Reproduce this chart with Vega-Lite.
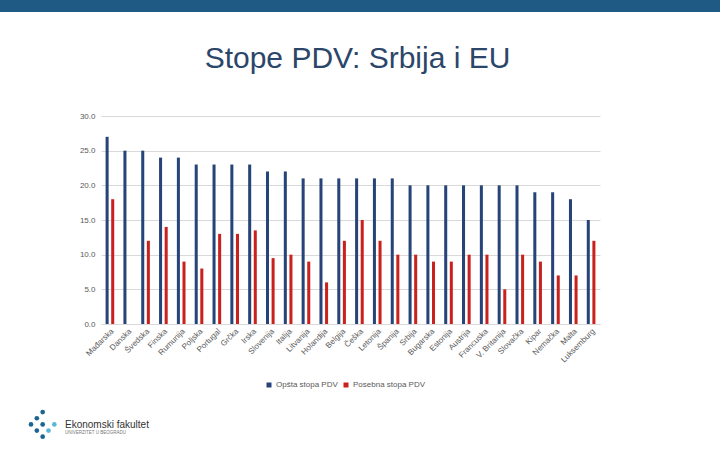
{
  "$schema": "https://vega.github.io/schema/vega-lite/v6.json",
  "padding": 0,
  "spacing": 20,
  "background": "white",
  "config": {"view": {"stroke": null}, "font": "Liberation Sans"},
  "resolve": {"scale": {"color": "independent"}, "legend": {"color": "independent"}},
  "datasets": {
    "pdv": [
      {"zemlja": "Mađarska", "vrsta": "Opšta stopa PDV", "stopa": 27},
      {"zemlja": "Mađarska", "vrsta": "Posebna stopa PDV", "stopa": 18},
      {"zemlja": "Danska", "vrsta": "Opšta stopa PDV", "stopa": 25},
      {"zemlja": "Švedska", "vrsta": "Opšta stopa PDV", "stopa": 25},
      {"zemlja": "Švedska", "vrsta": "Posebna stopa PDV", "stopa": 12},
      {"zemlja": "Finska", "vrsta": "Opšta stopa PDV", "stopa": 24},
      {"zemlja": "Finska", "vrsta": "Posebna stopa PDV", "stopa": 14},
      {"zemlja": "Rumunija", "vrsta": "Opšta stopa PDV", "stopa": 24},
      {"zemlja": "Rumunija", "vrsta": "Posebna stopa PDV", "stopa": 9},
      {"zemlja": "Poljska", "vrsta": "Opšta stopa PDV", "stopa": 23},
      {"zemlja": "Poljska", "vrsta": "Posebna stopa PDV", "stopa": 8},
      {"zemlja": "Portugal", "vrsta": "Opšta stopa PDV", "stopa": 23},
      {"zemlja": "Portugal", "vrsta": "Posebna stopa PDV", "stopa": 13},
      {"zemlja": "Grčka", "vrsta": "Opšta stopa PDV", "stopa": 23},
      {"zemlja": "Grčka", "vrsta": "Posebna stopa PDV", "stopa": 13},
      {"zemlja": "Irska", "vrsta": "Opšta stopa PDV", "stopa": 23},
      {"zemlja": "Irska", "vrsta": "Posebna stopa PDV", "stopa": 13.5},
      {"zemlja": "Slovenija", "vrsta": "Opšta stopa PDV", "stopa": 22},
      {"zemlja": "Slovenija", "vrsta": "Posebna stopa PDV", "stopa": 9.5},
      {"zemlja": "Italija", "vrsta": "Opšta stopa PDV", "stopa": 22},
      {"zemlja": "Italija", "vrsta": "Posebna stopa PDV", "stopa": 10},
      {"zemlja": "Litvanija", "vrsta": "Opšta stopa PDV", "stopa": 21},
      {"zemlja": "Litvanija", "vrsta": "Posebna stopa PDV", "stopa": 9},
      {"zemlja": "Holandija", "vrsta": "Opšta stopa PDV", "stopa": 21},
      {"zemlja": "Holandija", "vrsta": "Posebna stopa PDV", "stopa": 6},
      {"zemlja": "Belgija", "vrsta": "Opšta stopa PDV", "stopa": 21},
      {"zemlja": "Belgija", "vrsta": "Posebna stopa PDV", "stopa": 12},
      {"zemlja": "Češka", "vrsta": "Opšta stopa PDV", "stopa": 21},
      {"zemlja": "Češka", "vrsta": "Posebna stopa PDV", "stopa": 15},
      {"zemlja": "Letonija", "vrsta": "Opšta stopa PDV", "stopa": 21},
      {"zemlja": "Letonija", "vrsta": "Posebna stopa PDV", "stopa": 12},
      {"zemlja": "Španija", "vrsta": "Opšta stopa PDV", "stopa": 21},
      {"zemlja": "Španija", "vrsta": "Posebna stopa PDV", "stopa": 10},
      {"zemlja": "Srbija", "vrsta": "Opšta stopa PDV", "stopa": 20},
      {"zemlja": "Srbija", "vrsta": "Posebna stopa PDV", "stopa": 10},
      {"zemlja": "Bugarska", "vrsta": "Opšta stopa PDV", "stopa": 20},
      {"zemlja": "Bugarska", "vrsta": "Posebna stopa PDV", "stopa": 9},
      {"zemlja": "Estonija", "vrsta": "Opšta stopa PDV", "stopa": 20},
      {"zemlja": "Estonija", "vrsta": "Posebna stopa PDV", "stopa": 9},
      {"zemlja": "Austrija", "vrsta": "Opšta stopa PDV", "stopa": 20},
      {"zemlja": "Austrija", "vrsta": "Posebna stopa PDV", "stopa": 10},
      {"zemlja": "Francuska", "vrsta": "Opšta stopa PDV", "stopa": 20},
      {"zemlja": "Francuska", "vrsta": "Posebna stopa PDV", "stopa": 10},
      {"zemlja": "V. Britanija", "vrsta": "Opšta stopa PDV", "stopa": 20},
      {"zemlja": "V. Britanija", "vrsta": "Posebna stopa PDV", "stopa": 5},
      {"zemlja": "Slovačka", "vrsta": "Opšta stopa PDV", "stopa": 20},
      {"zemlja": "Slovačka", "vrsta": "Posebna stopa PDV", "stopa": 10},
      {"zemlja": "Kipar", "vrsta": "Opšta stopa PDV", "stopa": 19},
      {"zemlja": "Kipar", "vrsta": "Posebna stopa PDV", "stopa": 9},
      {"zemlja": "Nemačka", "vrsta": "Opšta stopa PDV", "stopa": 19},
      {"zemlja": "Nemačka", "vrsta": "Posebna stopa PDV", "stopa": 7},
      {"zemlja": "Malta", "vrsta": "Opšta stopa PDV", "stopa": 18},
      {"zemlja": "Malta", "vrsta": "Posebna stopa PDV", "stopa": 7},
      {"zemlja": "Luksemburg", "vrsta": "Opšta stopa PDV", "stopa": 15},
      {"zemlja": "Luksemburg", "vrsta": "Posebna stopa PDV", "stopa": 12}
    ],
    "logoTacke": [
      {"kol": 2, "red": 0, "ton": "tamna"},
      {"kol": 1, "red": 1, "ton": "tamna"},
      {"kol": 0, "red": 2, "ton": "tamna"},
      {"kol": 2, "red": 2, "ton": "tamna"},
      {"kol": 4, "red": 2, "ton": "svetla"},
      {"kol": 1, "red": 3, "ton": "tamna"},
      {"kol": 3, "red": 3, "ton": "svetla"},
      {"kol": 2, "red": 4, "ton": "tamna"}
    ]
  },
  "vconcat": [
    {
      "width": 619,
      "height": 24,
      "data": {"values": [{"traka": "zaglavlje"}]},
      "mark": {"type": "rect", "color": "#1f5a85"},
      "encoding": {
        "x": {"datum": 0, "type": "quantitative", "scale": {"domain": [101, 720]}, "axis": null},
        "x2": {"datum": 720},
        "y": {"datum": 1, "type": "quantitative", "scale": {"domain": [0, 2]}, "axis": null},
        "y2": {"datum": 2}
      }
    },
    {
      "width": 499,
      "height": 208,
      "title": {
        "text": "Stope PDV: Srbija i EU",
        "font": "Liberation Sans",
        "fontSize": 30,
        "fontWeight": "normal",
        "color": "#2c466a",
        "anchor": "middle",
        "dx": 7,
        "offset": 38
      },
      "data": {"name": "pdv"},
      "mark": {"type": "bar"},
      "encoding": {
        "x": {
          "field": "zemlja",
          "type": "nominal",
          "sort": null,
          "scale": {"paddingInner": 0, "paddingOuter": 0},
          "axis": {
            "title": null,
            "labelAngle": -45,
            "labelFontSize": 8,
            "labelColor": "#595959",
            "labelPadding": 3,
            "ticks": false,
            "domainColor": "#d9d9d9"
          }
        },
        "xOffset": {
          "field": "vrsta",
          "type": "nominal",
          "sort": ["Opšta stopa PDV", "Posebna stopa PDV"],
          "scale": {"paddingInner": 0.46, "paddingOuter": 0.82}
        },
        "y": {
          "field": "stopa",
          "type": "quantitative",
          "scale": {"domain": [0, 30]},
          "axis": {
            "title": null,
            "values": [0, 5, 10, 15, 20, 25, 30],
            "format": ".1f",
            "labelFontSize": 8,
            "labelColor": "#595959",
            "labelPadding": 6,
            "ticks": false,
            "tickSize": 0,
            "domain": false,
            "gridColor": "#d9d9d9",
            "minExtent": 101
          }
        },
        "color": {
          "field": "vrsta",
          "type": "nominal",
          "scale": {"domain": ["Opšta stopa PDV", "Posebna stopa PDV"], "range": ["#264478", "#c9211e"]},
          "legend": {
            "title": null,
            "orient": "none",
            "legendX": 164,
            "legendY": 265,
            "direction": "horizontal",
            "symbolType": "square",
            "symbolSize": 25,
            "labelFontSize": 8,
            "labelOffset": 3,
            "labelColor": "#595959",
            "columnPadding": 4
          }
        }
      }
    },
    {
      "width": 140,
      "height": 40,
      "layer": [
        {
          "data": {"name": "logoTacke"},
          "mark": {"type": "circle", "size": 22, "opacity": 1},
          "encoding": {
            "x": {"field": "kol", "type": "quantitative", "scale": {"domain": [13.75, 35.62]}, "axis": null},
            "y": {"field": "red", "type": "quantitative", "scale": {"domain": [-0.2, 5.8], "reverse": true}, "axis": null},
            "color": {"field": "ton", "type": "nominal", "scale": {"domain": ["tamna", "svetla"], "range": ["#1b6592", "#5cb7d6"]}, "legend": null}
          }
        },
        {
          "data": {"values": [{"tekst": "Ekonomski fakultet", "kol": 5.83, "red": 2.55}]},
          "mark": {"type": "text", "align": "left", "baseline": "alphabetic", "fontSize": 10, "color": "#333333"},
          "encoding": {
            "x": {"field": "kol", "type": "quantitative"},
            "y": {"field": "red", "type": "quantitative"},
            "text": {"field": "tekst"}
          }
        },
        {
          "data": {"values": [{"tekst": "UNIVERZITET U BEOGRADU", "kol": 5.83, "red": 3.6}]},
          "mark": {"type": "text", "align": "left", "baseline": "alphabetic", "fontSize": 4.5, "color": "#777777"},
          "encoding": {
            "x": {"field": "kol", "type": "quantitative"},
            "y": {"field": "red", "type": "quantitative"},
            "text": {"field": "tekst"}
          }
        }
      ]
    }
  ]
}
